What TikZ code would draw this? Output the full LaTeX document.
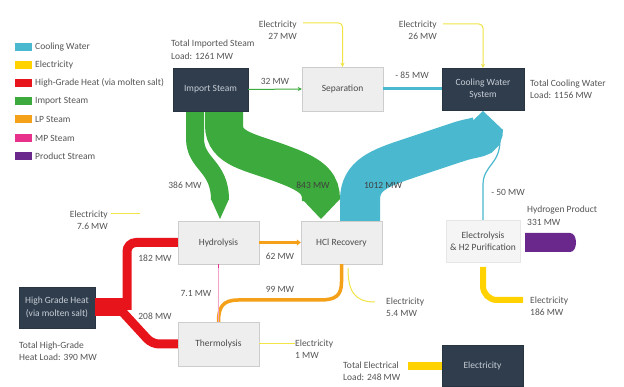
\documentclass[tikz,border=0pt]{standalone}
\usepackage{fontspec}
\setmainfont{Carlito}
\usetikzlibrary{arrows.meta}
\definecolor{cwc}{RGB}{74,184,206}
\definecolor{yelc}{RGB}{255,210,0}
\definecolor{yelt}{RGB}{240,228,70}
\definecolor{redc}{RGB}{232,20,27}
\definecolor{grnc}{RGB}{60,170,60}
\definecolor{orc}{RGB}{245,160,25}
\definecolor{magc}{RGB}{232,49,138}
\definecolor{purc}{RGB}{107,40,140}
\definecolor{darkc}{RGB}{47,61,77}
\definecolor{boxtxt}{RGB}{200,206,214}
\definecolor{txtc}{RGB}{85,85,85}
\definecolor{lightc}{RGB}{238,238,238}
\definecolor{lightd}{RGB}{205,205,205}
\begin{document}
\begin{tikzpicture}[x=1pt,y=-1pt,font=\fontsize{9.5}{12.5}\selectfont,
  lbl/.style={text=txtc,align=left,inner sep=0pt},
  lblr/.style={text=txtc,align=right,inner sep=0pt},
  mw/.style={text=txtc,inner sep=0pt},
  darkbox/.style={fill=darkc,draw=darkc!85!black,text=boxtxt,align=center,inner sep=0pt},
  lightbox/.style={fill=lightc,draw=lightd,text=txtc!90!black,align=center,inner sep=0pt},
  thinyel/.style={draw=yelt,line width=1pt},
  yarrow/.style={thinyel,-{Stealth[length=4pt,width=4pt]}}]
\useasboundingbox (0,0) rectangle (624,387);
\fill[white] (0,0) rectangle (624,387);

% legend
\foreach \y/\c/\t [count=\i] in {47/cwc/Cooling Water,65/yelc/Electricity,83/redc/High-Grade Heat (via molten salt),101/grnc/Import Steam,119/orc/LP Steam,138/magc/MP Steam,156/purc/Product Stream}{
  \fill[\c] (15,\y-4) rectangle (32,\y+4);
  \node[lbl,anchor=west] (leg\i) at (35,\y) {\t};
}

% coordinates for flow bends
\coordinate (gA) at (195,110);
\coordinate (gB) at (224,110);

% green bands (import steam)
\draw[grnc,line width=18pt] (gA) -- (195,138) .. controls (195,165) and (220,165) .. (220,200);
\fill[grnc] (211,199) -- (229,199) -- (220,219) -- cycle;
\draw[grnc,line width=38pt] (gB) -- (224,125) .. controls (224,150) and (252,152) .. (285,165) .. controls (315,176) and (321,185) .. (321,200);
\fill[grnc] (302,199) -- (340,199) -- (321,219) -- cycle;

% cyan band (cooling water)
\draw[cwc,line width=40pt] (360,221) -- (360,200) .. controls (360,175) and (380,168) .. (410,158) -- (455,143) .. controls (478,135) and (483,140) .. (483,128);
\fill[cwc] (463,130) -- (503,130) -- (483,111) -- cycle;

% boxes
\node[darkbox,minimum width=75pt,minimum height=43pt] (imp) at (210.5,89.5) {Import Steam};
\node[lightbox,minimum width=81pt,minimum height=44pt] (sep) at (342.5,89) {Separation};
\node[darkbox,minimum width=82pt,minimum height=42pt] (cws) at (483,89) {Cooling Water\\System};
\node[lightbox,minimum width=81pt,minimum height=43pt] (hyd) at (218.5,242.5) {Hydrolysis};
\node[lightbox,minimum width=81pt,minimum height=43pt] (hcl) at (341.5,242.5) {HCl Recovery};
\node[lightbox,fill=lightc!60,draw=lightd!50,minimum width=74pt,minimum height=42pt] (ely) at (483,241) {Electrolysis\\\& H2 Purification};
\node[lightbox,minimum width=81pt,minimum height=44pt] (thm) at (218.5,344) {Thermolysis};
\node[darkbox,minimum width=76pt,minimum height=41pt] (hgh) at (57,307.5) {High Grade Heat\\(via molten salt)};
\node[darkbox,minimum width=81pt,minimum height=41pt] (elc) at (482.5,366) {Electricity};

% thin connectors
\draw[grnc,line width=1pt,-{Stealth[length=4pt,width=4pt]}] (imp.east) -- (sep.west);
\draw[cwc,line width=3pt] (sep.east) -- (cws.west);
\coordinate (e27) at (303,23);
\coordinate (e26) at (443,24);
\draw[yarrow,rounded corners=4pt] (e27) -- (sep.north |- e27) -- (sep.north);
\draw[yarrow,rounded corners=4pt] (e26) -- (cws.north |- e26) -- (cws.north);
\draw[cwc,line width=1.2pt] (500,140) .. controls (500,165) and (483,165) .. (483,185) -- (ely.north);

% red high grade heat
\draw[redc,line width=18pt] (hgh.east) -- (124,307.5);
\draw[redc,line width=9pt,rounded corners=9pt] (127,310) -- (127,242.5) -- (hyd.west);
\draw[redc,line width=9pt,rounded corners=7pt] (118,307) -- (152,344) -- (thm.west);

% orange LP steam
\draw[orc,line width=3pt,-{Triangle[length=4pt,width=6pt]}] (hyd.east) -- (hcl.west);
\draw[orc,line width=3.5pt] (hcl.south) -- (341.5,282) .. controls (341.5,296) and (335,300) .. (320,300) -- (238,300) .. controls (222,300) and (218.5,308) .. (thm.north);

% magenta MP steam
\draw[magc!45,line width=0.6pt] (hyd.south) -- (thm.north);
\draw[magc,line width=1.5pt] (hyd.south) -- ++(0,4);

% electricity
\coordinate (e76) at (111,214);
\draw[thinyel] (e76) -- (140,214);
\draw[thinyel] (348,268) .. controls (348,292) and (355,302) .. (375,302);
\draw[thinyel] (thm.east) -- (295,344);
\draw[yelc,line width=6pt,rounded corners=14pt] (483,267) -- (483,300) -- (523,300);
\draw[yelc,line width=8pt] (408,366) -- (elc.west);

% hydrogen product
\fill[purc] (525,233) -- (570,233) .. controls (578,233) and (578,252) .. (570,252) -- (525,252) -- cycle;

% labels
\node[lbl,anchor=north west] (tis) at (171,40) {Total Imported Steam\\Load: 1261 MW};
\node[lblr,anchor=east] (l27) at (297,30) {Electricity\\27 MW};
\node[lblr,anchor=east] (l26) at (437,30) {Electricity\\26 MW};
\node[mw] (l32) at (275,81) {32 MW};
\node[mw] (l85) at (412,75) {- 85 MW};
\node[lbl,anchor=west] (tcw) at (530,89) {Total Cooling Water\\Load: 1156 MW};
\node[mw] (l386) at (185,185) {386 MW};
\node[mw,text=black!75] (l843) at (313,185) {843 MW};
\node[mw,text=black!75] (l1012) at (383,185) {1012 MW};
\node[mw] (l50) at (508,192) {- 50 MW};
\node[lbl,anchor=north west] (lh2) at (527,206) {Hydrogen Product\\331 MW};
\node[lbl,anchor=west] (l186) at (530,306) {Electricity\\186 MW};
\node[lbl,anchor=west] (l54) at (386,307) {Electricity\\5.4 MW};
\node[lbl,anchor=west] (l1) at (295,349) {Electricity\\1 MW};
\node[lbl,anchor=west] (tel) at (343,371) {Total Electrical\\Load: 248 MW};
\node[lblr,anchor=east] (l76) at (108,220) {Electricity\\7.6 MW};
\node[mw] (l182) at (155,258) {182 MW};
\node[mw] (l208) at (155,316) {208 MW};
\node[mw] (l71) at (196,293) {7.1 MW};
\node[mw] (l62) at (280,256) {62 MW};
\node[mw] (l99) at (280,289) {99 MW};
\node[lbl,anchor=west] (thg) at (19,351) {Total High-Grade\\Heat Load: 390 MW};
\end{tikzpicture}
\end{document}
